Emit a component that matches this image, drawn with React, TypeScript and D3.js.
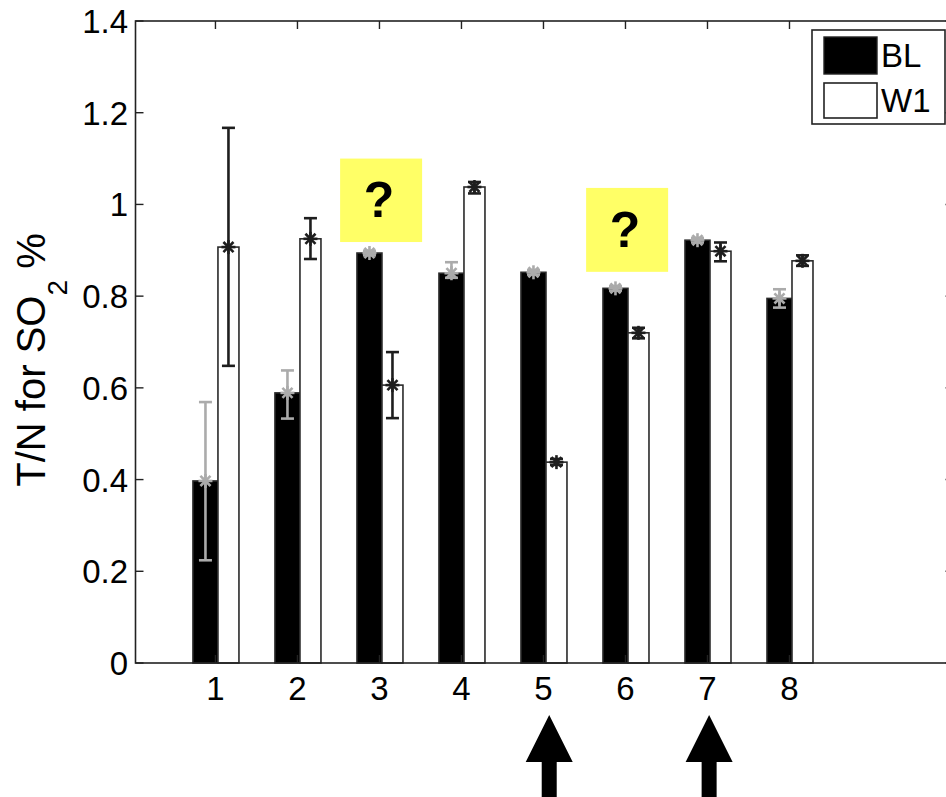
import React from "react";
import * as d3 from "d3";

const categories = [1, 2, 3, 4, 5, 6, 7, 8];
const seriesNames = ["BL", "W1"];
const blValues = [0.397, 0.589, 0.894, 0.85, 0.852, 0.817, 0.922, 0.795];
const blErrLow = [0.224, 0.533, 0.889, 0.84, 0.847, 0.812, 0.917, 0.775];
const blErrHigh = [0.569, 0.638, 0.899, 0.874, 0.857, 0.822, 0.927, 0.815];
const w1Values = [0.907, 0.925, 0.606, 1.038, 0.438, 0.72, 0.898, 0.877];
const w1ErrLow = [0.648, 0.881, 0.534, 1.024, 0.432, 0.708, 0.876, 0.866];
const w1ErrHigh = [1.167, 0.97, 0.678, 1.049, 0.445, 0.731, 0.917, 0.889];
const yTicks = [0, 0.2, 0.4, 0.6, 0.8, 1, 1.2, 1.4];
const questionBoxes = [
  { cat: 3, low: 0.918, high: 1.1 },
  { cat: 6, low: 0.853, high: 1.036 },
];
const arrowsAt = [5.07, 7.02];

const W = 946;
const H = 797;

function Asterisk({ cx, cy, r, color }: { cx: number; cy: number; r: number; color: string }) {
  const d = r * 0.72;
  return (
    <g stroke={color} strokeWidth={2.6} strokeLinecap="butt">
      <line x1={cx - r} y1={cy} x2={cx + r} y2={cy} />
      <line x1={cx} y1={cy - r} x2={cx} y2={cy + r} />
      <line x1={cx - d} y1={cy - d} x2={cx + d} y2={cy + d} />
      <line x1={cx - d} y1={cy + d} x2={cx + d} y2={cy - d} />
    </g>
  );
}

export default function App() {
  const x = d3.scaleLinear().domain([0.025, 10]).range([135.5, 953.5]);
  const y = d3.scaleLinear().domain([0, 1.4]).range([663, 21]);
  const left = x(0.025);
  const right = x(10);
  const top = y(1.4);
  const bottom = y(0);
  const font = "Arial, 'Liberation Sans', sans-serif";

  const series = [
    { name: seriesNames[0], vals: blValues, lo: blErrLow, hi: blErrHigh, fill: "#000", errColor: "#ababab", x0: -22.5, x1: 2.5 },
    { name: seriesNames[1], vals: w1Values, lo: w1ErrLow, hi: w1ErrHigh, fill: "#fff", errColor: "#1e1e1e", x0: 2.5, x1: 23.5 },
  ];

  return (
    <svg width={W} height={H} style={{ position: "absolute", left: 0, top: 0, background: "#fff" }}>
      <rect x={0} y={0} width={W} height={H} fill="#fff" />
      {questionBoxes.map((b, i) => {
        const x0 = x(b.cat - 0.5 + 0.02);
        const x1 = x(b.cat + 0.5 + 0.02);
        const y0 = y(b.high);
        const y1 = y(b.low);
        return (
          <g key={"q" + i}>
            <rect x={x0} y={y0} width={x1 - x0} height={y1 - y0} fill="#ffff66" />
            <text x={(x0 + x1) / 2 - 2} y={(y0 + y1) / 2 + 17} textAnchor="middle" fontFamily={font} fontWeight="bold" fontSize={50} fill="#000">?</text>
          </g>
        );
      })}
      {series.map((s, si) => (
        <g key={"bars" + si}>
          {categories.map((c, i) => {
            const bx0 = x(c) + s.x0;
            const bx1 = x(c) + s.x1;
            return (
              <rect key={i} x={bx0} y={y(s.vals[i])} width={bx1 - bx0} height={bottom - y(s.vals[i])}
                fill={s.fill} stroke="#2a2a2a" strokeWidth={1.6} />
            );
          })}
        </g>
      ))}
      {series.map((s, si) => (
        <g key={"err" + si}>
          {categories.map((c, i) => {
            const cx = x(c) + (s.x0 + s.x1) / 2;
            const yl = y(s.lo[i]);
            const yh = y(s.hi[i]);
            const cap = 6.5;
            return (
              <g key={i}>
                <g stroke={s.errColor} strokeWidth={2.6}>
                  <line x1={cx} y1={yl} x2={cx} y2={yh} />
                  <line x1={cx - cap} y1={yl} x2={cx + cap} y2={yl} />
                  <line x1={cx - cap} y1={yh} x2={cx + cap} y2={yh} />
                </g>
                <Asterisk cx={cx} cy={y(s.vals[i])} r={7} color={s.errColor} />
              </g>
            );
          })}
        </g>
      ))}
      <rect x={left} y={top} width={right - left} height={bottom - top} fill="none" stroke="#222" strokeWidth={1.6} />
      {yTicks.map((t, i) => (
        <g key={"yt" + i}>
          <line x1={left} x2={left + 8} y1={y(t)} y2={y(t)} stroke="#222" strokeWidth={1.4} />
          <line x1={right} x2={right - 8} y1={y(t)} y2={y(t)} stroke="#222" strokeWidth={1.4} />
          <text x={128} y={y(t) + 12} textAnchor="end" fontFamily={font} fontSize={33} fill="#000">{String(t)}</text>
        </g>
      ))}
      {categories.map((c, i) => (
        <g key={"xt" + i}>
          <line x1={x(c)} x2={x(c)} y1={bottom} y2={bottom - 8} stroke="#222" strokeWidth={1.4} />
          <line x1={x(c)} x2={x(c)} y1={top} y2={top + 8} stroke="#222" strokeWidth={1.4} />
          <text x={x(c)} y={700} textAnchor="middle" fontFamily={font} fontSize={33} fill="#000">{String(c)}</text>
        </g>
      ))}
      <text transform="translate(45,360) rotate(-90)" textAnchor="middle" fontFamily={font} fontSize={40} fill="#000">
        T/N for SO<tspan fontSize={28} dy={22}>2</tspan><tspan dy={-22}> %</tspan>
      </text>
      <rect x={812} y={30} width={133} height={94} fill="#fff" stroke="#222" strokeWidth={1.6} />
      <rect x={824} y={37} width={53} height={37} fill="#000" stroke="#222" strokeWidth={1.4} />
      <rect x={824} y={83} width={53} height={35} fill="#fff" stroke="#222" strokeWidth={1.6} />
      <text x={881} y={67} fontFamily={font} fontSize={33} fill="#000">{seriesNames[0]}</text>
      <text x={881} y={112} fontFamily={font} fontSize={33} fill="#000">{seriesNames[1]}</text>
      {arrowsAt.map((a, i) => {
        const cx = x(a);
        const tip = 715;
        const base = 762;
        const hw = 23.5;
        const sw = 7.5;
        const pts = [
          [cx, tip], [cx + hw, base], [cx + sw, base], [cx + sw, H], [cx - sw, H], [cx - sw, base], [cx - hw, base],
        ].map((p) => p.join(",")).join(" ");
        return <polygon key={"ar" + i} points={pts} fill="#000" />;
      })}
    </svg>
  );
}
